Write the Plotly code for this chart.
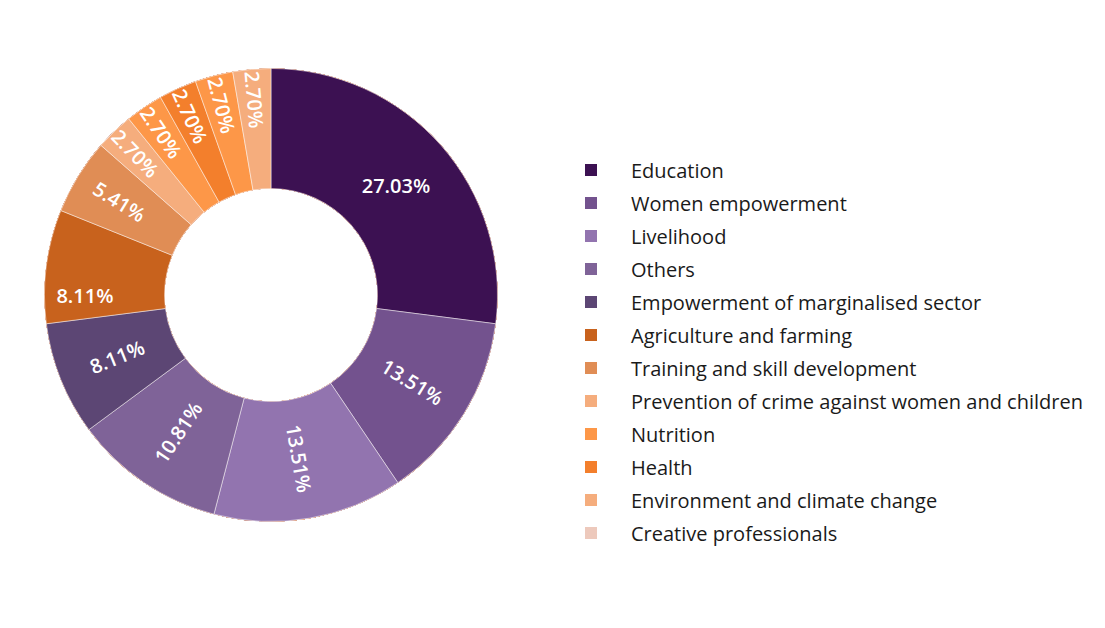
import plotly.graph_objects as go

labels = ["Education", "Women empowerment", "Livelihood", "Others",
          "Empowerment of marginalised sector", "Agriculture and farming",
          "Training and skill development", "Prevention of crime against women and children",
          "Nutrition", "Health", "Environment and climate change", "Creative professionals"]
values = [10, 5, 5, 4, 3, 3, 2, 1, 1, 1, 1, 1]

legend_colors = ["#3C1152", "#73528E", "#9274AF", "#7F6398", "#5C4674", "#C8621D",
                 "#E08D55", "#F5AD7D", "#FD9748", "#F37F2C", "#F5AD7D", "#EDC9BC"]
slice_colors = ["#3C1152", "#73528E", "#9274AF", "#7F6398", "#5C4674", "#C8621D",
                "#E08D55", "#F5AD7D", "#FD9748", "#F37F2C", "#FD9748", "#F5AD7D"]

W, H = 1105, 628
cx, cy, r = 271, 295, 226.5
dom = dict(x=[(cx - r) / W, (cx + r) / W], y=[1 - (cy + r) / H, 1 - (cy - r) / H])

FONT = "Open Sans, sans-serif"
PCT = "%{percent:.2%}"

fig = go.Figure()
# legend carriers (one per label, drawn underneath the visible donut)
for i, (lab, val, col) in enumerate(zip(labels, values, legend_colors)):
    fig.add_trace(go.Pie(labels=[lab], values=[val], sort=False, direction="clockwise",
                         rotation=0, hole=0.47, domain=dom, textinfo="none",
                         marker=dict(colors=[col], line=dict(width=0)),
                         legendgroup=f"g{i}", hoverinfo="skip", showlegend=True))
# visible donut, radial labels for all slices but the first
fig.add_trace(go.Pie(labels=labels, values=values, sort=False, direction="clockwise",
                     rotation=0, hole=0.47, domain=dom,
                     texttemplate=[""] + [PCT] * (len(labels) - 1), textposition="inside",
                     insidetextorientation="radial",
                     textfont=dict(color="white", size=20, family=FONT, weight=600),
                     marker=dict(colors=slice_colors, line=dict(color="rgba(255,255,255,0.6)", width=0.8)),
                     showlegend=False))
# transparent overlay carrying the first slice's label horizontally
fig.add_trace(go.Pie(labels=labels, values=values, sort=False, direction="clockwise",
                     rotation=0, hole=0.47, domain=dom,
                     texttemplate=[PCT] + [""] * (len(labels) - 1), textposition="inside",
                     insidetextorientation="horizontal",
                     textfont=dict(color="white", size=20, family=FONT, weight=600),
                     marker=dict(colors=["rgba(0,0,0,0)"] * len(labels), line=dict(width=0)),
                     hoverinfo="skip", showlegend=False))

fig.update_layout(
    width=W, height=H,
    margin=dict(l=0, r=0, t=0, b=0),
    paper_bgcolor="white", plot_bgcolor="white",
    font=dict(family=FONT, color="#1a1a1a"),
    legend=dict(x=551 / W, xanchor="left", y=1 - 351.5 / H, yanchor="middle",
                font=dict(size=20, family=FONT, color="#1a1a1a"),
                itemwidth=70, traceorder="grouped", tracegroupgap=4,
                bgcolor="rgba(0,0,0,0)"),
)

fig.write_html("out.html")
